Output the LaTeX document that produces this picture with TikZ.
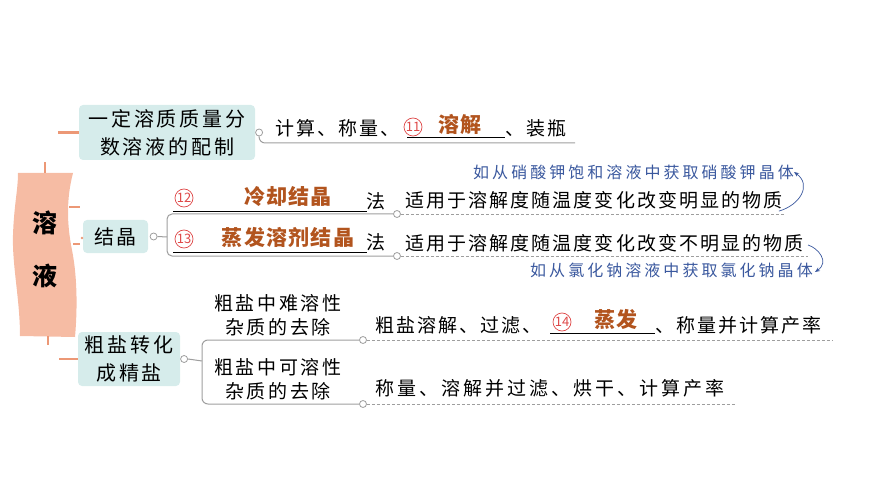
\documentclass[tikz,border=0pt]{standalone}
\usepackage{fontspec}
\setmainfont{Noto Sans CJK SC}
\newfontfamily\topicfont[LetterSpace=14]{Noto Sans CJK SC}
\newfontfamily\kaifont[LetterSpace=11]{Noto Sans CJK SC}
\newfontfamily\kaiwide[LetterSpace=16]{Noto Sans CJK SC}
\newfontfamily\ansfont[LetterSpace=6]{Noto Sans CJK SC}
\newfontfamily\notefont[LetterSpace=19]{Noto Sans CJK SC}
\usepackage{xcolor}
\usepackage{tikz}
\usetikzlibrary{positioning,calc,arrows.meta}
\definecolor{BarOrange}{RGB}{246,188,164}
\definecolor{TickOrange}{RGB}{236,152,118}
\definecolor{BoxTeal}{RGB}{214,236,235}
\definecolor{AnsBrown}{RGB}{178,84,30}
\definecolor{NoteBlue}{RGB}{58,88,158}
\definecolor{LineGray}{RGB}{158,158,158}
\definecolor{NumRed}{RGB}{222,72,72}
\tikzset{
    topicbox/.style={rounded corners=4pt, fill=BoxTeal, align=center, inner sep=0pt, font=\topicfont\fontsize{20}{28}\selectfont},
    kaitext/.style={anchor=west, inner sep=0pt, font=\kaifont\fontsize{19}{20}\selectfont},
    answer/.style={inner sep=0pt, text=AnsBrown, font=\ansfont\bfseries\fontsize{21}{22}\selectfont},
    numcircle/.style={circle, draw=NumRed, text=NumRed, line width=0.7pt, minimum size=18pt, inner sep=0pt, font=\fontsize{13}{13}\selectfont},
    notetext/.style={anchor=west, inner sep=0pt, text=NoteBlue, font=\notefont\fontsize{16}{16}\selectfont},
    knob/.style={circle, draw=LineGray, fill=white, line width=0.8pt, minimum size=7pt, inner sep=0pt},
    branch/.style={draw=LineGray, line width=1pt},
    leaf/.style={draw=LineGray, line width=0.8pt, dash pattern=on 3pt off 2pt},
    tick/.style={draw=TickOrange, line width=2.5pt},
    blank/.style={draw=black, line width=0.9pt}
}
\begin{document}
\begin{tikzpicture}[x=1pt, y=-1pt,
        % Kiểu chữ gốc: đậm, màu đen
        roottext/.style={align=center, inner sep=0pt, font=\bfseries\fontsize{25}{53}\selectfont},
        % Mũi tên ghi chú màu xanh
        notearrow/.style={draw=NoteBlue, line width=0.7pt, -{Stealth[length=5pt, width=4pt]}}
    ]
    \useasboundingbox (0,0) rectangle (870,489);

    % --- THÂN GỐC: dải màu cam ---
    \fill[BarOrange] (18,173) -- (73,173)
        .. controls (66,200) and (67,225) .. (72,250)
        .. controls (78,280) and (77,315) .. (75,337)
        -- (20,336)
        .. controls (20,300) and (12,265) .. (13,235)
        .. controls (14,205) and (18,190) .. (18,173) -- cycle;
    \node[roottext] (root) at (45,249) {溶\\液};
    \coordinate (barTop) at (45,173);
    \coordinate (barBot) at (48,336);

    % --- CÁC NHÁNH CHÍNH ---
    \node[topicbox, minimum width=176pt, minimum height=55pt] (box1) at (167,132.5) {一定溶质质量分\\数溶液的配制};
    \node[topicbox, minimum width=65pt, minimum height=33pt] (box2) at (115.5,236.5) {结晶};
    \node[topicbox, minimum width=102pt, minimum height=54pt] (box3) at (129,359) {粗盐转化\\成精盐};

    % Các vạch cam nối từ gốc
    \draw[tick] (barTop) -- ++(0,-11);
    \draw[tick] (barBot) -- ++(0,9);
    \draw[tick] (box1.west) -- ++(-21,0);
    \draw[tick] (box3.west) -- ++(-19,0);
    \draw[tick] (69,207) -- (80,207);
    \draw[tick] (73,244) -- (80,244);
    \fill[TickOrange] (82,238) circle (1.3pt);

    % --- NHÁNH 1: pha chế dung dịch ---
    \node[knob, right=0pt of box1] (k1) {};
    \coordinate (e1) at (575,143);
    \draw[branch, rounded corners=6pt] (k1.south) |- (e1);
    \node[kaitext] (t11) at (275,128) {计算、称量、};
    \node[numcircle] (n11) at (413,127) {11};
    \node[answer] (a11) at (460,124) {溶解};
    \node[kaitext] (t12) at (505,128) {、装瓶};
    \draw[blank] (407,137) -- (505,137);

    % --- NHÁNH 2: kết tinh ---
    \node[knob, right=1.5pt of box2] (k2) {};
    \coordinate (j2) at (167,237);
    \node[knob] (k21) at (397,214) {};
    \node[knob] (k22) at (397,256) {};
    \draw[branch] (k2.east) -- (j2);
    \draw[branch, rounded corners=5pt] (k21.west) -| (j2) |- (k22.west);
    \coordinate (d21) at (785,214);
    \coordinate (d22) at (808,256);
    \draw[leaf] (k21.east) -- (d21);
    \draw[leaf] (k22.east) -- (d22);

    \node[numcircle] (n12) at (184,198) {12};
    \node[answer] (a12) at (288,197) {冷却结晶};
    \node[kaitext, anchor=center] (f12) at (376,201) {法};
    \draw[blank] (173,211) -- (367,211);
    \node[kaitext] (t21) at (405,200) {适用于溶解度随温度变化改变明显的物质};

    \node[numcircle] (n13) at (184,239) {13};
    \node[answer] (a13) at (288,237) {蒸发溶剂结晶};
    \node[kaitext, anchor=center] (f13) at (376,242) {法};
    \draw[blank] (173,252) -- (367,252);
    \node[kaitext] (t22) at (405,243) {适用于溶解度随温度变化改变不明显的物质};

    % Ghi chú màu xanh
    \node[notetext] (note1) at (473,172) {如从硝酸钾饱和溶液中获取硝酸钾晶体};
    \node[notetext] (note2) at (530,270) {如从氯化钠溶液中获取氯化钠晶体};
    \draw[notearrow] ($(t21.south east)+(-4,2)$) .. controls (800,205) and (812,185) .. (note1.east);
    \draw[notearrow] ($(t22.east)+(4,2)$) .. controls (818,248) and (830,262) .. ($(note2.east)+(2,2)$);

    % --- NHÁNH 3: tinh chế muối thô ---
    \node[knob, right=0pt of box3] (k3) {};
    \coordinate (j3) at (202,361);
    \node[knob] (k31) at (363,340) {};
    \node[knob] (k32) at (363,404) {};
    \draw[branch] (k3.east) -- (j3);
    \draw[branch, rounded corners=6pt] (k31.west) -| (j3) |- (k32.west);
    \coordinate (d31) at (832,340);
    \coordinate (d32) at (735,404);
    \draw[leaf] (k31.east) -- (d31);
    \draw[leaf] (k32.east) -- (d32);

    \node[topicbox, fill=none, font=\topicfont\fontsize{19}{24}\selectfont] (s31) at (278,315) {粗盐中难溶性\\杂质的去除};
    \node[topicbox, fill=none, font=\topicfont\fontsize{19}{24}\selectfont] (s32) at (278,379) {粗盐中可溶性\\杂质的去除};

    \node[kaitext] (t31) at (375,325) {粗盐溶解、过滤、};
    \node[numcircle] (n14) at (562,322) {14};
    \node[answer] (a14) at (616,319) {蒸发};
    \node[kaitext] (t32) at (655,325) {、称量并计算产率};
    \draw[blank] (550,333) -- (655,333);
    \node[kaitext, font=\kaiwide\fontsize{19}{20}\selectfont] (t33) at (375,388) {称量、溶解并过滤、烘干、计算产率};

\end{tikzpicture}
\end{document}
